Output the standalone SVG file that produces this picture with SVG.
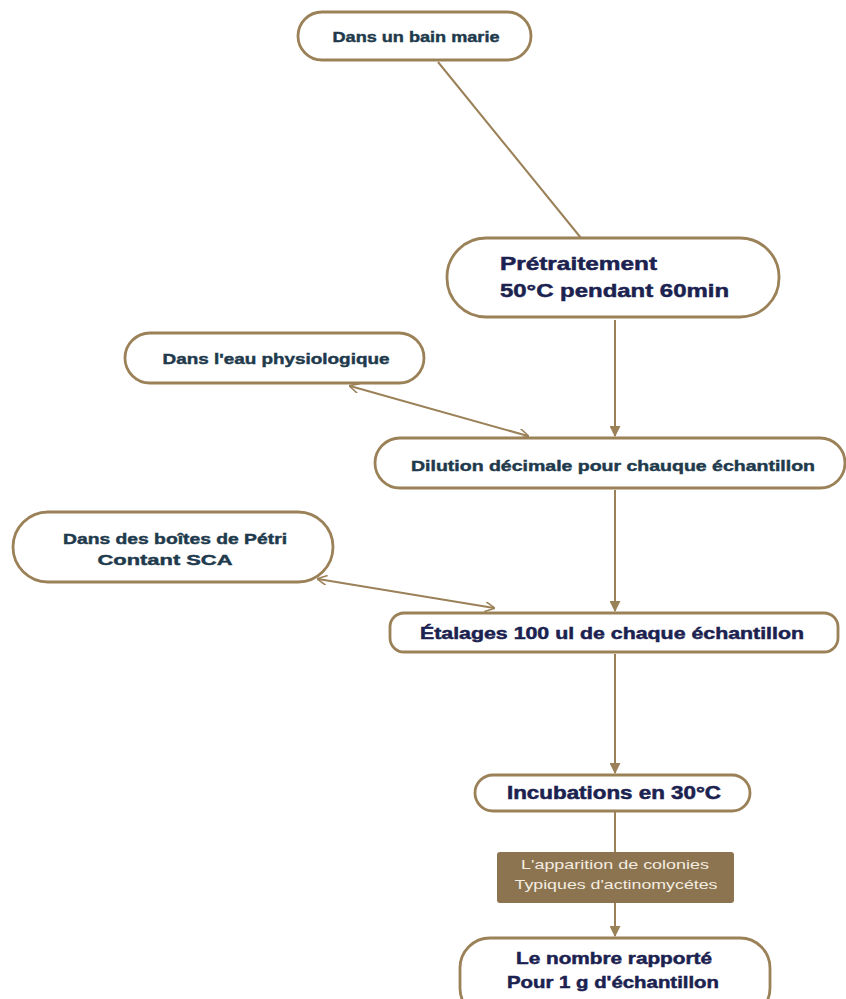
<svg xmlns="http://www.w3.org/2000/svg" width="846" height="999" viewBox="0 0 846 999">
<defs>
<marker id="tri" viewBox="0 0 10 10" refX="9" refY="5" markerWidth="5.5" markerHeight="5.5" orient="auto-start-reverse" markerUnits="strokeWidth">
<path d="M0,0 L10,5 L0,10 z" fill="#9b8158"/>
</marker>
<marker id="open" viewBox="0 0 10 10" refX="9" refY="5" markerWidth="5" markerHeight="5" orient="auto-start-reverse" markerUnits="strokeWidth">
<path d="M0,0 L10,5 L0,10" fill="none" stroke="#9b8158" stroke-width="1.6"/>
</marker>
</defs>
<style>
.box{fill:#ffffff;stroke:#9b8158;stroke-width:2.8}
.ln{stroke:#9b8158;stroke-width:2;fill:none}
.t{font-family:"Liberation Sans",Arial,sans-serif;font-weight:bold;text-anchor:middle}
.teal{fill:#1e3a4c;stroke:#1e3a4c;stroke-width:0.45;font-size:15.5px}
.navy{fill:#1b2250;stroke:#1b2250;stroke-width:0.5}
.wt{fill:#f3ece0;font-size:13px;font-weight:normal}
</style>
<rect width="846" height="999" fill="#ffffff"/>
<g id="connectors">
<line class="ln" x1="438" y1="62" x2="581" y2="238"/>
<line class="ln" x1="615" y1="320" x2="615" y2="436" marker-end="url(#tri)"/>
<line class="ln" x1="350" y1="386" x2="528" y2="436" marker-start="url(#open)" marker-end="url(#open)"/>
<line class="ln" x1="615" y1="490" x2="615" y2="611" marker-end="url(#tri)"/>
<line class="ln" x1="318" y1="579" x2="494" y2="608" marker-start="url(#open)" marker-end="url(#open)"/>
<line class="ln" x1="615" y1="654" x2="615" y2="773" marker-end="url(#tri)"/>
<line class="ln" x1="615" y1="812" x2="615" y2="852"/>
<line class="ln" x1="615" y1="903" x2="615" y2="936" marker-end="url(#tri)"/>
</g>
<g id="n1">
<rect class="box" x="298" y="12" width="233" height="48" rx="24"/>
<text class="t teal" x="416" y="42" textLength="167" lengthAdjust="spacingAndGlyphs">Dans un bain marie</text>
</g>
<g id="n2">
<rect class="box" x="447" y="238" width="332" height="79" rx="39"/>
<text class="t navy" x="500" y="270" style="text-anchor:start;font-size:19px" textLength="157" lengthAdjust="spacingAndGlyphs">Prétraitement</text>
<text class="t navy" x="500" y="297" style="text-anchor:start;font-size:19px" textLength="229" lengthAdjust="spacingAndGlyphs">50°C pendant 60min</text>
</g>
<g id="n3">
<rect class="box" x="125" y="333" width="299" height="50" rx="25"/>
<text class="t teal" x="276" y="364" textLength="227" lengthAdjust="spacingAndGlyphs">Dans l'eau physiologique</text>
</g>
<g id="n4">
<rect class="box" x="375" y="438" width="470" height="50" rx="25"/>
<text class="t teal" x="613" y="471" textLength="404" lengthAdjust="spacingAndGlyphs">Dilution décimale pour chauque échantillon</text>
</g>
<g id="n5">
<rect class="box" x="13" y="512" width="320" height="70" rx="35"/>
<text class="t teal" x="175" y="544" textLength="224" lengthAdjust="spacingAndGlyphs">Dans des boîtes de Pétri</text>
<text class="t teal" x="165" y="565" textLength="135" lengthAdjust="spacingAndGlyphs">Contant SCA</text>
</g>
<g id="n6">
<rect class="box" x="390" y="613" width="448" height="39" rx="14"/>
<text class="t navy" x="612" y="639" style="font-size:17px" textLength="384" lengthAdjust="spacingAndGlyphs">Étalages 100 ul  de chaque échantillon</text>
</g>
<g id="n7">
<rect class="box" x="475" y="775" width="275" height="36" rx="18"/>
<text class="t navy" x="614" y="799" style="font-size:17.5px" textLength="214" lengthAdjust="spacingAndGlyphs">Incubations en 30°C</text>
</g>
<g id="n8">
<rect x="497" y="852" width="237" height="51" rx="3" fill="#8c7450"/>
<text class="t wt" x="615" y="869" textLength="188" lengthAdjust="spacingAndGlyphs">L'apparition de colonies</text>
<text class="t wt" x="616" y="889" textLength="203" lengthAdjust="spacingAndGlyphs">Typiques d'actinomycétes</text>
</g>
<g id="n9">
<rect class="box" x="460" y="938" width="310" height="80" rx="30"/>
<text class="t navy" x="614" y="964" style="font-size:17px" textLength="196" lengthAdjust="spacingAndGlyphs">Le nombre rapporté</text>
<text class="t navy" x="613" y="988" style="font-size:17px" textLength="212" lengthAdjust="spacingAndGlyphs">Pour 1 g d'échantillon</text>
</g>
</svg>
